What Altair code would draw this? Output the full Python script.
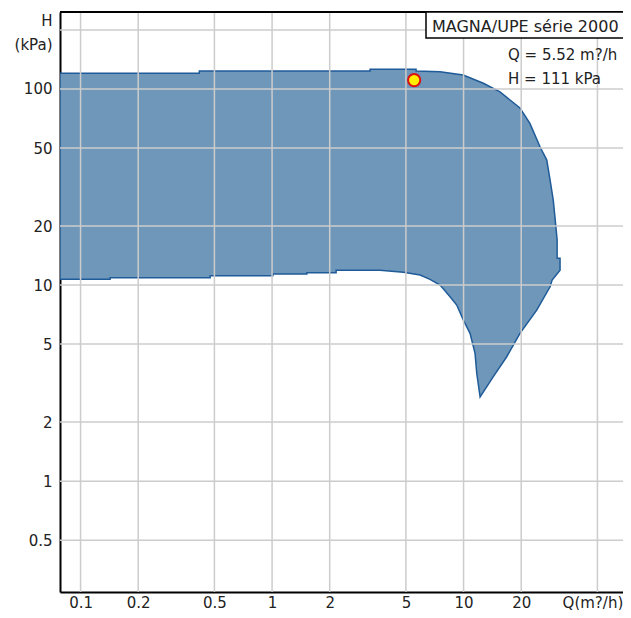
import altair as alt
import pandas as pd

# Operating range boundary (Q in m3/h, H in kPa), traced clockwise
poly_q = [0.0781, 0.417, 0.417, 3.25, 3.25, 5.65, 5.65, 7.54, 9.95, 12.69,
          15.5, 19.7, 22.2, 25.1, 27.2, 28.3, 29.4, 30.0, 30.8, 30.8,
          31.9, 31.9, 29.0, 28.3, 24.1, 19.7, 16.8, 14.3, 12.2, 11.72,
          11.48, 10.81, 9.98, 9.21, 8.50, 7.54, 6.68, 5.93, 4.85, 3.66,
          2.16, 2.16, 1.52, 1.52, 1.01, 1.01, 0.475, 0.475, 0.1426, 0.1426,
          0.0781, 0.0781]
poly_h = [120.3, 120.3, 123.6, 123.6, 126.1, 126.1, 123.6, 122.5, 117.9, 107.0,
          96.6, 80.0, 66.8, 50.6, 43.4, 34.3, 27.1, 22.2, 17.0, 13.7,
          13.7, 11.9, 10.6, 9.80, 7.45, 5.67, 4.31, 3.41, 2.69, 3.54,
          4.48, 5.67, 6.63, 7.91, 8.72, 10.0, 10.7, 11.25, 11.61, 11.9,
          11.89, 11.55, 11.55, 11.38, 11.38, 11.15, 11.15, 10.9, 10.9, 10.7,
          10.7, 120.3]

# Duty point
op_q = [5.52]
op_h = [111]

x_ticks = [0.1, 0.2, 0.5, 1, 2, 5, 10, 20, 50]
y_ticks = [0.5, 1, 2, 5, 10, 20, 50, 100, 200]

title_text = ["MAGNA/UPE série 2000"]
q_text = ["Q = 5.52 m?/h"]
h_text = ["H = 111 kPa"]

FONT = "DejaVu Sans"
TXT = "#222222"
W = 563
H = 580

poly_df = pd.DataFrame({"Q": poly_q, "H": poly_h, "i": list(range(len(poly_q)))})
op_df = pd.DataFrame({"Q": op_q, "H": op_h})
xg_df = pd.DataFrame({"Q": x_ticks})
yg_df = pd.DataFrame({"H": y_ticks})
title_df = pd.DataFrame({"t": title_text})
q_df = pd.DataFrame({"t": q_text})
h_df = pd.DataFrame({"t": h_text})

x_scale = alt.Scale(type="log", domain=[0.0781, 68.0], nice=False)
y_scale = alt.Scale(type="log", domain=[0.272, 247], nice=False)

x_axis = alt.Axis(values=x_ticks, format="~g",
                  labelExpr="datum.value >= 49 ? 'Q(m?/h)' : datum.label",
                  labelOffset={"condition": {"test": "datum.value >= 49", "value": -5},
                               "value": 0},
                  grid=False, ticks=False, domainColor="black", domainWidth=2,
                  labelFont=FONT, labelFontSize=15, labelColor=TXT,
                  labelPadding=3, title=None, labelFlush=False, labelOverlap=False)
y_axis = alt.Axis(values=y_ticks, format="~g",
                  labelExpr="datum.value >= 199 ? ['H', '(kPa)'] : datum.label",
                  labelOffset={"condition": {"test": "datum.value >= 199", "value": -9},
                               "value": 0},
                  grid=False, ticks=False, domainColor="black", domainWidth=2,
                  labelFont=FONT, labelFontSize=15, labelColor=TXT,
                  labelLineHeight=24, labelPadding=8, title=None,
                  labelFlush=False, labelOverlap=False)

polygon = alt.Chart(poly_df).mark_line(
    fill="#6f97ba", stroke="#1f5b98", strokeWidth=1.5, clip=True
).encode(
    x=alt.X("Q:Q", scale=x_scale, axis=x_axis),
    y=alt.Y("H:Q", scale=y_scale, axis=y_axis),
    order="i:Q",
)

xgrid = alt.Chart(xg_df).mark_rule(color="#cccccc", strokeWidth=1.5).encode(
    x=alt.X("Q:Q", scale=x_scale)
)
ygrid = alt.Chart(yg_df).mark_rule(color="#cccccc", strokeWidth=1.5).encode(
    y=alt.Y("H:Q", scale=y_scale)
)

top_line = alt.Chart(title_df).mark_rule(color="black", strokeWidth=2).encode(
    x=alt.value(0), x2=alt.value(W + 10), y=alt.value(0)
)

box = alt.Chart(title_df).mark_rect(
    fill="white", stroke="black", strokeWidth=1.5
).encode(x=alt.value(366), x2=alt.value(700), y=alt.value(0), y2=alt.value(26))

title = alt.Chart(title_df).mark_text(
    align="left", baseline="alphabetic", font=FONT, fontSize=16, color=TXT
).encode(x=alt.value(372), y=alt.value(20), text="t:N")

qline = alt.Chart(q_df).mark_text(
    align="left", baseline="alphabetic", font=FONT, fontSize=15, color=TXT
).encode(x=alt.value(448), y=alt.value(48), text="t:N")

hline = alt.Chart(h_df).mark_text(
    align="left", baseline="alphabetic", font=FONT, fontSize=15, color=TXT
).encode(x=alt.value(448), y=alt.value(72), text="t:N")

point = alt.Chart(op_df).mark_point(
    shape="circle", filled=True, size=150, fill="#ffee00", stroke="#dd1111",
    strokeWidth=2, opacity=1
).encode(x=alt.X("Q:Q", scale=x_scale), y=alt.Y("H:Q", scale=y_scale))

chart = alt.layer(
    polygon, xgrid, ygrid, top_line, box, title, qline, hline, point
).properties(
    width=W, height=H,
    autosize=alt.AutoSizeParams(type="none"),
    padding={"left": 52, "top": 4, "right": 0, "bottom": 18},
    background="white",
).configure_view(stroke=None)

chart.save("out.html", embed_options={"renderer": "svg", "actions": False})
